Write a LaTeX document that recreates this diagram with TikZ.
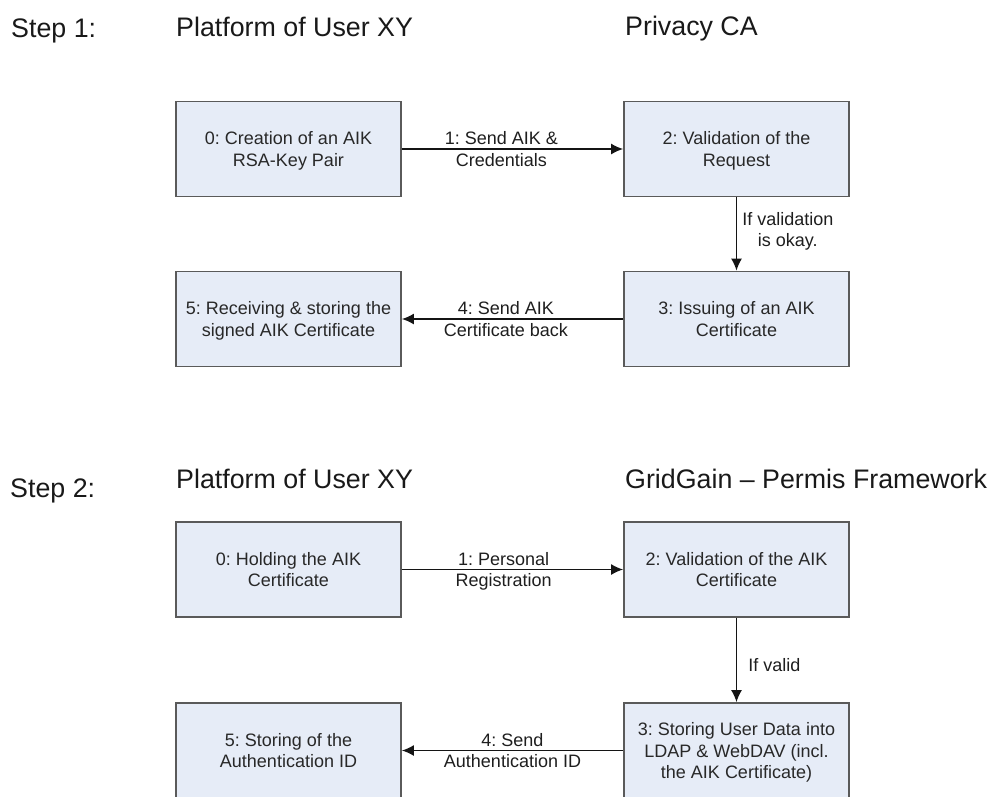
\documentclass[tikz,border=0pt]{standalone}
\usepackage{fontspec}
\setmainfont{Liberation Sans}
\frenchspacing
\usetikzlibrary{arrows.meta,positioning,calc}

\begin{document}
\begin{tikzpicture}[x=1pt,y=1pt]
\tikzset{stepbox/.style={draw={rgb,255:red,90;green,90;blue,90}, line width=1.8pt, fill={rgb,255:red,230;green,236;blue,247}, minimum width=225pt, minimum height=95pt, align=center, inner sep=0pt, text depth=0pt, font=\fontsize{18}{21.5}\selectfont, text={rgb,255:red,40;green,40;blue,40}}}
\tikzset{heading/.style={anchor=base west, inner sep=0pt, font=\fontsize{26.8}{32}\selectfont, text={rgb,255:red,25;green,25;blue,25}}}
\tikzset{msg/.style={align=center, inner sep=0pt, text depth=0pt, font=\fontsize{18}{21.5}\selectfont, text={rgb,255:red,30;green,30;blue,30}}}
\tikzset{flow/.style={draw={rgb,255:red,20;green,20;blue,20}, line width=1.5pt, -{Latex[length=12pt,width=11pt]}}}
\useasboundingbox (0,0) rectangle (994,-796);

% step 1
\node[heading] (step1) at (11,-37) {Step 1:};
\node[heading] (userA) at (176,-36) {Platform of User XY};
\node[heading] (pca) at (625,-35) {Privacy CA};

\node[stepbox] (PA0) at (288.5,-149) {0: Creation of an AIK\\RSA-Key Pair};
\node[stepbox, right=221.2pt of PA0] (CA2) {2: Validation of the\\Request};
\node[stepbox, below=73.2pt of CA2] (CA3) {3: Issuing of an AIK\\Certificate};
\node[stepbox, below=73.2pt of PA0] (PA5) {5: Receiving \& storing the\\signed AIK Certificate};

\draw[flow] (PA0.east) -- node[msg, pos=0.45] {1: Send AIK \&\\Credentials} (CA2.west);
\draw[flow] (CA2.south) -- node[msg, anchor=west, xshift=5pt, pos=0.44] {If validation\\is okay.} (CA3.north);
\draw[flow] (CA3.west) -- node[msg, pos=0.53] {4: Send AIK\\Certificate back} (PA5.east);

% step 2
\node[heading] (step2) at (10,-497) {Step 2:};
\node[heading] (userB) at (176,-488) {Platform of User XY};
\node[heading] (ggp) at (625,-488) {GridGain -- Permis Framework};

\node[stepbox] (PB0) at (288.5,-569.5) {0: Holding the AIK\\Certificate};
\node[stepbox, right=221.2pt of PB0] (GG2) {2: Validation of the AIK\\Certificate};
\node[stepbox, below=84.2pt of GG2] (GG3) {3: Storing User Data into\\LDAP \& WebDAV (incl.\\the AIK Certificate)};
\node[stepbox, below=84.2pt of PB0] (PB5) {5: Storing of the\\Authentication ID};

\draw[flow] (PB0.east) -- node[msg, pos=0.46] {1: Personal\\Registration} (GG2.west);
\draw[flow] (GG2.south) -- node[msg, anchor=west, xshift=11pt, pos=0.56] {If valid} (GG3.north);
\draw[flow] (GG3.west) -- node[msg, pos=0.5] {4: Send\\Authentication ID} (PB5.east);
\end{tikzpicture}
\end{document}
